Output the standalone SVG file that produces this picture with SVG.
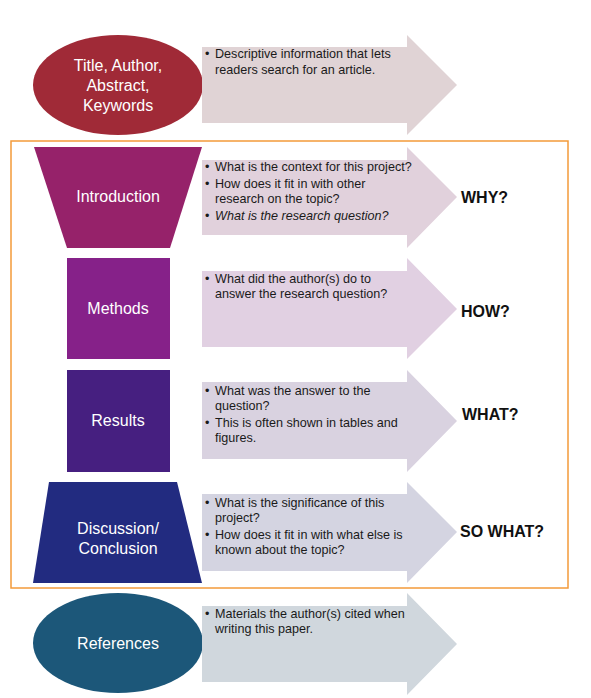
<svg xmlns="http://www.w3.org/2000/svg" width="591" height="698" viewBox="0 0 591 698">
<style>
.lbl{font-family:"Liberation Sans",Arial,sans-serif;font-size:16px;fill:#ffffff;text-anchor:middle}
.bt{font-family:"Liberation Sans",Arial,sans-serif;font-size:12.6px;fill:#1a1a1a}
.q{font-family:"Liberation Sans",Arial,sans-serif;font-size:16px;font-weight:bold;fill:#111111}
.it{font-style:italic}
</style>
<rect width="591" height="698" fill="#ffffff"/>
<g id="frame"><rect x="11" y="141" width="557" height="447" fill="none" stroke="#F39A3A" stroke-width="1.5"/></g>

<g id="title">
<ellipse cx="118" cy="85" rx="85" ry="50" fill="#A02A37"/>
<text class="lbl" x="118" y="71">Title, Author,</text>
<text class="lbl" x="118" y="91">Abstract,</text>
<text class="lbl" x="118" y="111">Keywords</text>
</g>
<g id="title-arrow">
<polygon points="202,47 407,47 407,35 457,85 407,135 407,123 202,123" fill="#E0D3D5"/>
<text class="bt" x="205" y="58">•</text><text class="bt" x="215" y="58">Descriptive information that lets</text>
<text class="bt" x="215" y="74">readers search for an article.</text>
</g>

<g id="introduction">
<polygon points="34,147 202,147 170,248 67,248" fill="#96226A"/>
<text class="lbl" x="118" y="202">Introduction</text>
</g>
<g id="intro-arrow">
<polygon points="202,160 407,160 407,147 457,197 407,248 407,235 202,235" fill="#E1D1DC"/>
<text class="bt" x="205" y="171">•</text><text class="bt" x="215" y="171">What is the context for this project?</text>
<text class="bt" x="205" y="188">•</text><text class="bt" x="215" y="188">How does it fit in with other</text>
<text class="bt" x="215" y="203">research on the topic?</text>
<text class="bt" x="205" y="220">•</text><text class="bt it" x="215" y="220">What is the research question?</text>
<text class="q" x="461" y="203">WHY?</text>
</g>

<g id="methods">
<rect x="67" y="258" width="103" height="101" fill="#862189"/>
<text class="lbl" x="118" y="314">Methods</text>
</g>
<g id="methods-arrow">
<polygon points="202,271 407,271 407,258 457,309 407,359 407,347 202,347" fill="#E1D0E2"/>
<text class="bt" x="205" y="283">•</text><text class="bt" x="215" y="283">What did the author(s) do to</text>
<text class="bt" x="215" y="298">answer the research question?</text>
<text class="q" x="461" y="317">HOW?</text>
</g>

<g id="results">
<rect x="67" y="370" width="103" height="102" fill="#461F80"/>
<text class="lbl" x="118" y="426">Results</text>
</g>
<g id="results-arrow">
<polygon points="202,382 407,382 407,370 457,421 407,472 407,459 202,459" fill="#D9D2E0"/>
<text class="bt" x="205" y="395">•</text><text class="bt" x="215" y="395">What was the answer to the</text>
<text class="bt" x="215" y="410">question?</text>
<text class="bt" x="205" y="427">•</text><text class="bt" x="215" y="427">This is often shown in tables and</text>
<text class="bt" x="215" y="442">figures.</text>
<text class="q" x="462" y="420">WHAT?</text>
</g>

<g id="discussion">
<polygon points="49,482 177,482 202,583 33,583" fill="#222B80"/>
<text class="lbl" x="118" y="534">Discussion/</text>
<text class="lbl" x="118" y="554">Conclusion</text>
</g>
<g id="discussion-arrow">
<polygon points="202,494 407,494 407,482 457,532 407,583 407,571 202,571" fill="#D4D4E1"/>
<text class="bt" x="205" y="507">•</text><text class="bt" x="215" y="507">What is the significance of this</text>
<text class="bt" x="215" y="522">project?</text>
<text class="bt" x="205" y="539">•</text><text class="bt" x="215" y="539">How does it fit in with what else is</text>
<text class="bt" x="215" y="554">known about the topic?</text>
<text class="q" x="460" y="537">SO WHAT?</text>
</g>

<g id="references">
<ellipse cx="118" cy="643" rx="85" ry="50" fill="#1C5779"/>
<text class="lbl" x="118" y="649">References</text>
</g>
<g id="references-arrow">
<polygon points="202,606 407,606 407,593 457,644 407,695 407,682 202,682" fill="#D0D7DD"/>
<text class="bt" x="205" y="618">•</text><text class="bt" x="215" y="618">Materials the author(s) cited when</text>
<text class="bt" x="215" y="633">writing this paper.</text>
</g>
<g id="connectors"/>
</svg>
